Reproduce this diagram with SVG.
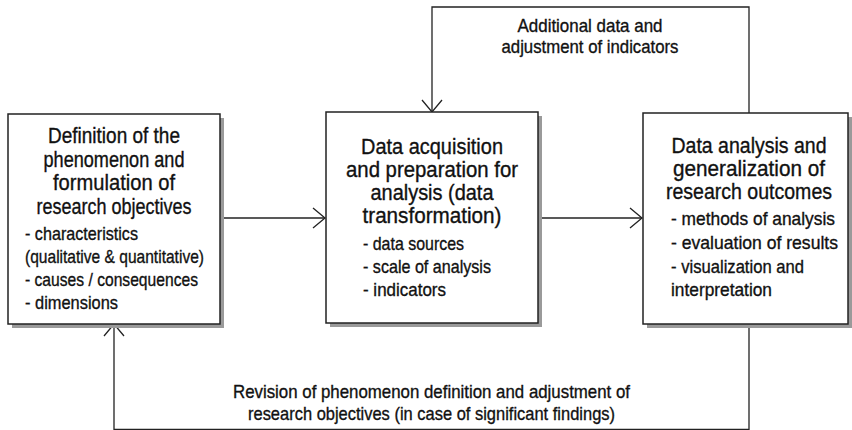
<svg xmlns="http://www.w3.org/2000/svg" width="852" height="430" viewBox="0 0 852 430">
<style>
.box{fill:#fff;stroke:#222;stroke-width:1.5}
.shadow{fill:#9a9a9a;stroke:none}
.t{font-family:"Liberation Sans",Arial,sans-serif;fill:#111;stroke:#111;stroke-width:0.35}
.title{font-size:22px;text-anchor:middle}
.item{font-size:19px}
.lbl{font-size:19px;text-anchor:middle}
.conn{fill:none;stroke:#222;stroke-width:1.3}
</style>
<defs>
<marker id="arr" markerUnits="userSpaceOnUse" viewBox="-14 -12 16 24" refX="0" refY="0" markerWidth="16" markerHeight="24" orient="auto" overflow="visible">
<path d="M-12,-10 L0,0 L-12,10" fill="none" stroke="#222" stroke-width="1.3"/>
</marker>
</defs>
<g id="connectors">
<path class="conn" d="M220,218 H325" marker-end="url(#arr)"/>
<path class="conn" d="M538,218 H642" marker-end="url(#arr)"/>
<path class="conn" d="M749,113 V7 H432 V112" marker-end="url(#arr)"/>
<path class="conn" d="M749,324 V429.3 H114 V324" marker-end="url(#arr)"/>
<text class="t lbl" x="590" y="32" textLength="145" lengthAdjust="spacingAndGlyphs">Additional data and</text>
<text class="t lbl" x="590" y="53" textLength="177" lengthAdjust="spacingAndGlyphs">adjustment of indicators</text>
<text class="t lbl" x="431.5" y="398" textLength="397" lengthAdjust="spacingAndGlyphs">Revision of phenomenon definition and adjustment of</text>
<text class="t lbl" x="431.5" y="420" textLength="367" lengthAdjust="spacingAndGlyphs">research objectives (in case of significant findings)</text>
</g>
<g id="node1">
<rect class="shadow" x="12" y="118" width="212" height="210"/>
<rect class="box" x="8" y="114" width="212" height="210"/>
<text class="t title" x="114" y="143" textLength="132" lengthAdjust="spacingAndGlyphs">Definition of the</text>
<text class="t title" x="114" y="167" textLength="141" lengthAdjust="spacingAndGlyphs">phenomenon and</text>
<text class="t title" x="114" y="190" textLength="122" lengthAdjust="spacingAndGlyphs">formulation of</text>
<text class="t title" x="114" y="214" textLength="155" lengthAdjust="spacingAndGlyphs">research objectives</text>
<text class="t item" x="25" y="240" textLength="113" lengthAdjust="spacingAndGlyphs">- characteristics</text>
<text class="t item" x="25" y="263" textLength="179" lengthAdjust="spacingAndGlyphs">(qualitative &amp; quantitative)</text>
<text class="t item" x="25" y="286" textLength="173" lengthAdjust="spacingAndGlyphs">- causes / consequences</text>
<text class="t item" x="25" y="309" textLength="93" lengthAdjust="spacingAndGlyphs">- dimensions</text>
</g>
<g id="node2">
<rect class="shadow" x="330" y="116" width="212" height="211"/>
<rect class="box" x="326" y="112" width="212" height="211"/>
<text class="t title" x="432" y="154" textLength="142" lengthAdjust="spacingAndGlyphs">Data acquisition</text>
<text class="t title" x="432" y="177" textLength="172" lengthAdjust="spacingAndGlyphs">and preparation for</text>
<text class="t title" x="432" y="200" textLength="123" lengthAdjust="spacingAndGlyphs">analysis (data</text>
<text class="t title" x="432" y="223" textLength="139" lengthAdjust="spacingAndGlyphs">transformation)</text>
<text class="t item" x="363" y="250" textLength="101" lengthAdjust="spacingAndGlyphs">- data sources</text>
<text class="t item" x="363" y="273" textLength="128" lengthAdjust="spacingAndGlyphs">- scale of analysis</text>
<text class="t item" x="363" y="296" textLength="83" lengthAdjust="spacingAndGlyphs">- indicators</text>
</g>
<g id="node3">
<rect class="shadow" x="647" y="117" width="205" height="211"/>
<rect class="box" x="643" y="113" width="205" height="211"/>
<text class="t title" x="749" y="153" textLength="155" lengthAdjust="spacingAndGlyphs">Data analysis and</text>
<text class="t title" x="749" y="176" textLength="152" lengthAdjust="spacingAndGlyphs">generalization of</text>
<text class="t title" x="749" y="199" textLength="166" lengthAdjust="spacingAndGlyphs">research outcomes</text>
<text class="t item" x="671" y="225" textLength="164" lengthAdjust="spacingAndGlyphs">- methods of analysis</text>
<text class="t item" x="671" y="249" textLength="167" lengthAdjust="spacingAndGlyphs">- evaluation of results</text>
<text class="t item" x="671" y="273" textLength="133" lengthAdjust="spacingAndGlyphs">- visualization and</text>
<text class="t item" x="671" y="296" textLength="101" lengthAdjust="spacingAndGlyphs">interpretation</text>
</g>
</svg>
